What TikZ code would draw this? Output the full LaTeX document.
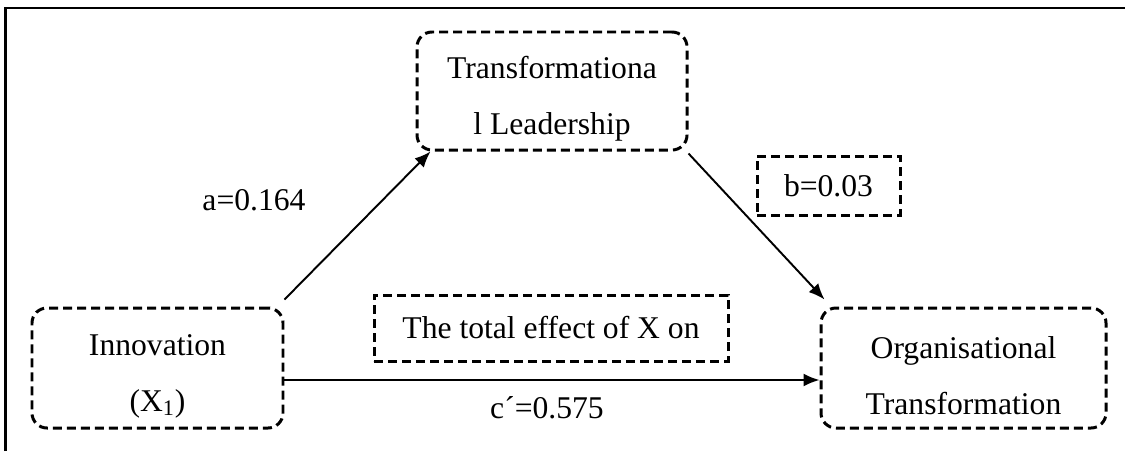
\documentclass[tikz,border=0pt]{standalone}
\usepackage{fontspec}
\setmainfont{Liberation Serif}
\usetikzlibrary{arrows.meta}
\newcommand{\topgap}{\rule{0pt}{0.75cm}}

\begin{document}
\begin{tikzpicture}[
  varbox/.style={draw, line width=1.7pt, dash pattern=on 0.18cm off 0.1cm, rounded corners=0.3cm, align=center, inner sep=0pt},
  notebox/.style={draw, line width=1.7pt, dash pattern=on 0.18cm off 0.1cm, align=center, inner sep=0pt},
  path/.style={line width=1.1pt, -{Latex[length=0.32cm,width=0.26cm]}},
  txt/.style={font=\fontsize{18}{31.5}\selectfont}
]
\useasboundingbox (0,0) rectangle (22.500,9.020);
\draw[line width=1.7pt] (0.110,0) -- (0.110,8.860) -- (22.500,8.860);
\node[varbox, txt, minimum width=5.400cm, minimum height=2.360cm] (lead) at (11.040,7.200) {\topgap Transformationa\\l Leadership};
\node[varbox, txt, minimum width=5.020cm, minimum height=2.400cm] (inno) at (3.150,1.660) {\topgap Innovation\\(X\textsubscript{1})};
\node[varbox, txt, minimum width=5.700cm, minimum height=2.400cm] (org) at (19.270,1.660) {\topgap Organisational\\Transformation};
\node[notebox, txt, minimum width=7.080cm, minimum height=1.320cm] (total) at (11.020,2.460) {The total effect of X on};
\node[notebox, txt, minimum width=2.860cm, minimum height=1.180cm] (bval) at (16.570,5.310) {b=0.03};
\node[txt, anchor=base] (aval) at (5.080,4.820) {a=0.164};
\node[txt, anchor=base] (cval) at (10.940,0.660) {c´=0.575};
\draw[path] ([yshift=0.14cm]inno.north east) -- ([xshift=0.30cm]lead.south west);
\draw[path] ([yshift=-0.04cm]lead.south east) -- ([xshift=0.10cm,yshift=0.14cm]org.north west);
\draw[path] ([yshift=-0.24cm]inno.east) -- ([yshift=-0.24cm]org.west);
\end{tikzpicture}
\end{document}
